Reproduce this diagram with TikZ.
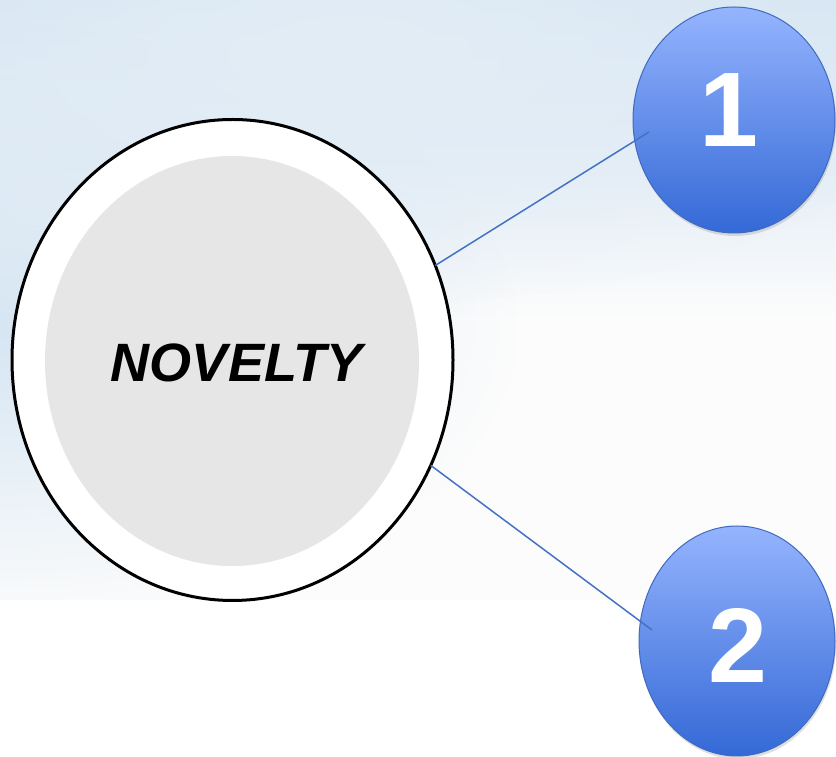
\documentclass[tikz,border=0pt]{standalone}
\usepackage{fontspec}
\setmainfont{Liberation Sans}
\usetikzlibrary{shapes.geometric,shadows,fadings}
\definecolor{skyA}{HTML}{D6E6F3}
\definecolor{skyB}{HTML}{E3EDF6}
\definecolor{skyC}{HTML}{FCFCFC}
\definecolor{innergray}{HTML}{E6E6E6}
\definecolor{balltop}{HTML}{95B4FE}
\definecolor{ballbot}{HTML}{3469D6}
\definecolor{ballborder}{HTML}{3F6AC0}
\definecolor{linkblue}{HTML}{4472C4}
\tikzfading[name=softblob, inner color=transparent!0, outer color=transparent!100]
\tikzset{
  bigring/.style={ellipse, draw=black, line width=3pt, fill=white, inner sep=0pt, outer sep=0pt},
  innerdisc/.style={ellipse, fill=innergray, inner sep=0pt, outer sep=0pt},
  ball/.style={ellipse, draw=ballborder, line width=1pt, top color=balltop, bottom color=ballbot,
     inner sep=0pt, outer sep=0pt, drop shadow={shadow xshift=1pt, shadow yshift=-3pt, opacity=0.25}},
  digit/.style={text=white, font=\fontsize{106}{106}\selectfont\bfseries},
  link/.style={draw=linkblue, line width=1.5pt},
}
\begin{document}
\begin{tikzpicture}[x=1pt,y=1pt]
\useasboundingbox (0,0) rectangle (836,757);
% background
\fill[white] (0,0) rectangle (836,757);
\begin{scope}
\clip (0,157) rectangle (836,757);
\fill[skyC] (0,157) rectangle (836,757);
\shade[top color=skyA, bottom color=skyC, middle color=skyB] (0,437) rectangle (836,757);
\fill[skyA, path fading=softblob] (0,430) ellipse (520 and 300);
\fill[skyB, path fading=softblob] (350,700) ellipse (600 and 250);
\end{scope}
% central ring
\node[bigring, minimum width=441pt, minimum height=481pt] (big) at (232.5,397) {};
\node[innerdisc, minimum width=374pt, minimum height=410pt] (inner) at (232,396) {};
\node[font=\fontsize{54}{54}\selectfont\bfseries\itshape] (nov) at (236.5,394.5) {NOVELTY};
% balls
\node[ball, minimum width=202pt, minimum height=226pt] (one) at (734,637) {};
\node[ball, minimum width=196pt, minimum height=230pt] (two) at (737,116) {};
\node[digit] (d1) at (729,647) {1};
\node[digit] (d2) at (738,112) {2};
% connectors
\coordinate (e1) at (649,625);
\coordinate (e2) at (652,127);
\draw[link] (big.25.6) -- (e1);
\draw[link] (big.-28) -- (e2);
\end{tikzpicture}
\end{document}
